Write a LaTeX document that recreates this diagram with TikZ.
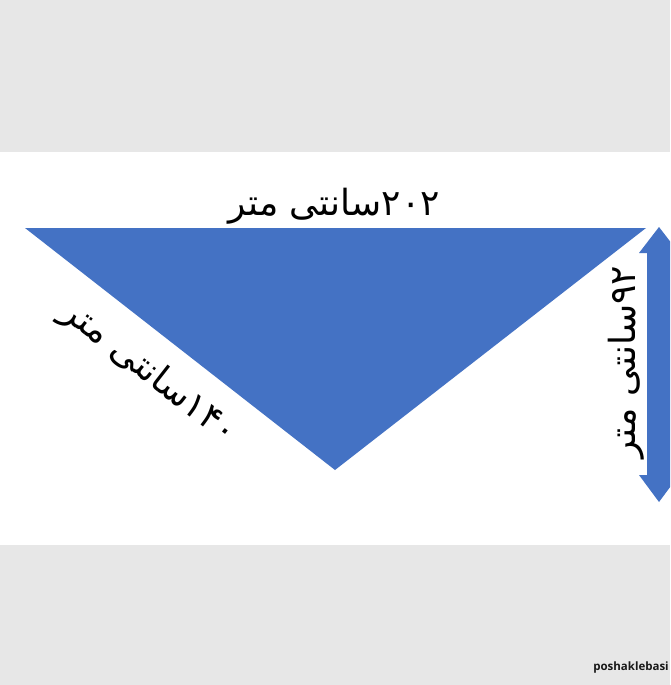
\documentclass[tikz,border=0pt]{standalone}
\usepackage{fontspec}
\setmainfont{DejaVu Sans}
\newfontfamily\arabicfont[Script=Arabic]{DejaVu Sans}
\newfontfamily\markfont{Open Sans}
\TeXXeTstate=1
\definecolor{shawlblue}{HTML}{4472C4}
\definecolor{bandgray}{HTML}{E7E7E7}
\begin{document}
\begin{tikzpicture}[x=1pt,y=-1pt,
  sizelabel/.style={font=\arabicfont\fontsize{36}{42}\selectfont,inner sep=0pt},
  marklabel/.style={font=\markfont\bfseries\fontsize{11.5}{14}\selectfont,text=black!90,inner sep=0pt}]
 \clip (0,0) rectangle (670,685);
 \fill[bandgray] (0,0) rectangle (670,152);
 \fill[white] (0,152) rectangle (670,545);
 \fill[bandgray] (0,545) rectangle (670,685);
 \coordinate (topleft) at (25,228);
 \coordinate (topright) at (646,228);
 \coordinate (tip) at (335,470);
 \fill[shawlblue] (topleft)--(topright)--(tip)--cycle;
 \fill[shawlblue] (659,227)--(679,253)--(671,253)--(671,475)--(679,475)--(659,502)
   --(639,475)--(647,475)--(647,253)--(639,253)--cycle;
 \node[sizelabel] (width) at (334,206) {\beginR ۲۰۲سانتی متر\endR};
 \node[sizelabel,rotate=-38] (side) at (149,373) {\beginR ۱۴۰سانتی متر\endR};
 \node[sizelabel,rotate=90] (height) at (626,362) {\beginR ۹۲سانتی متر\endR};
 \node[marklabel] (mark) at (631,668) {poshaklebasi};
\end{tikzpicture}
\end{document}
